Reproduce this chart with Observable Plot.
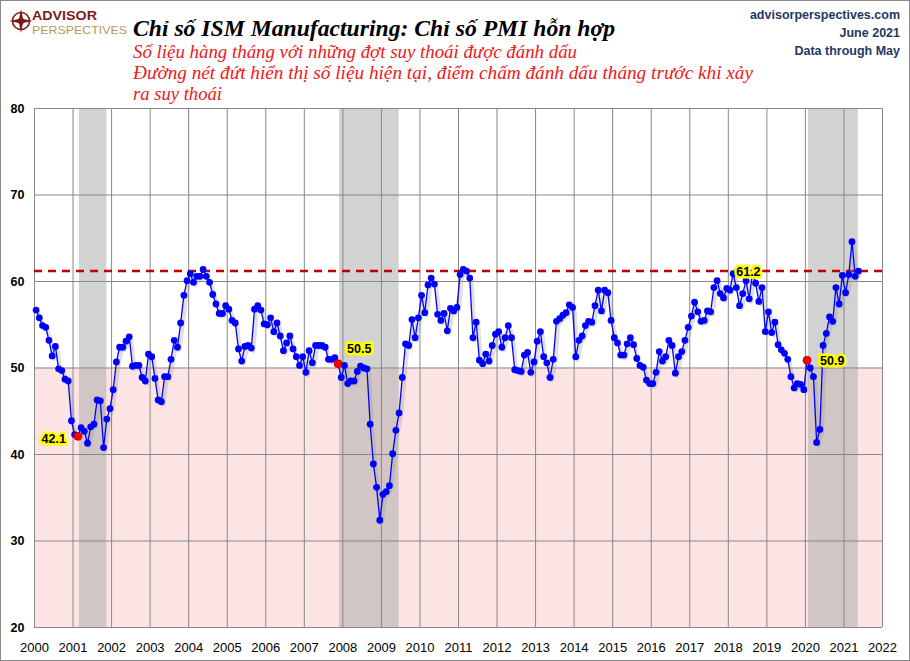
<!DOCTYPE html>
<html>
<head>
<meta charset="utf-8">
<script src="https://cdn.jsdelivr.net/npm/d3@7"></script>
<script src="https://cdn.jsdelivr.net/npm/@observablehq/plot@0.6"></script>
<style>
  html, body { margin: 0; padding: 0; background: #fff; }
  #wrap { position: relative; width: 910px; height: 661px; overflow: hidden; background: #fff; }
  #chart { position: absolute; left: 0; top: 0; }
  #overlay { position: absolute; left: 0; top: 0; pointer-events: none; }
  #border { position: absolute; left: 0; top: 0; width: 910px; height: 661px; box-sizing: border-box; border: 1px solid #8a8a8a; pointer-events: none; }
</style>
</head>
<body>
<div id="wrap">
  <div id="chart"></div>
  <svg id="overlay" width="910" height="661" xmlns="http://www.w3.org/2000/svg">
    <!-- logo -->
    <g>
      <circle cx="21" cy="21" r="8.5" fill="none" stroke="#7a1c1c" stroke-width="1.6"/>
      <polygon points="21,9 23,19 33,21 23,23 21,33 19,23 9,21 19,19" fill="#7a1c1c"/>
      <circle cx="21" cy="21" r="3.2" fill="#7a1c1c"/>
      <text x="32" y="20" font-family="Liberation Sans, Arial, sans-serif" font-weight="bold" font-size="12.5" fill="#7a1c1c" textLength="65" lengthAdjust="spacingAndGlyphs">ADVISOR</text>
      <text x="32" y="33.5" font-family="Liberation Sans, Arial, sans-serif" font-size="11.5" fill="#b59a5c" textLength="95" lengthAdjust="spacingAndGlyphs">PERSPECTIVES</text>
    </g>
    <text x="133" y="36" font-family="Liberation Serif, Times New Roman, serif" font-weight="bold" font-style="italic" font-size="23" fill="#000" textLength="482" lengthAdjust="spacingAndGlyphs">Chỉ số ISM Manufacturing: Chỉ số PMI hỗn hợp</text>
    <g font-family="Liberation Serif, Times New Roman, serif" font-style="italic" font-size="18" fill="#f01818">
      <text x="133" y="57.5" textLength="444" lengthAdjust="spacingAndGlyphs">Số liệu hàng tháng với những đợt suy thoái được đánh dấu</text>
      <text x="133" y="79" textLength="620" lengthAdjust="spacingAndGlyphs">Đường nét đứt hiển thị số liệu hiện tại, điểm chấm đánh dấu tháng trước khi xảy</text>
      <text x="133" y="100" textLength="89" lengthAdjust="spacingAndGlyphs">ra suy thoái</text>
    </g>
    <g font-family="Liberation Sans, Arial, sans-serif" font-weight="bold" font-size="12.5" fill="#1f3864" text-anchor="end">
      <text x="900" y="18.5">advisorperspectives.com</text>
      <text x="900" y="37">June 2021</text>
      <text x="900" y="55">Data through May</text>
    </g>
  </svg>
  <div id="border"></div>
</div>
<script>
// ISM Manufacturing PMI, monthly Jan 2000 – May 2021
const pmi2000 = [56.7, 55.8, 54.9, 54.7, 53.2, 51.4, 52.5, 49.9, 49.7, 48.7, 48.5, 43.9];
const pmi2001 = [42.3, 42.1, 43.1, 42.7, 41.3, 43.2, 43.5, 46.3, 46.2, 40.8, 44.1, 45.3];
const pmi2002 = [47.5, 50.7, 52.4, 52.4, 53.1, 53.6, 50.2, 50.3, 50.3, 48.9, 48.5, 51.6];
const pmi2003 = [51.3, 48.8, 46.3, 46.1, 49.0, 49.0, 51.0, 53.2, 52.4, 55.2, 58.4, 60.1];
const pmi2004 = [60.9, 59.9, 60.6, 60.6, 61.4, 60.6, 59.9, 58.5, 57.4, 56.3, 56.3, 57.2];
const pmi2005 = [56.8, 55.5, 55.2, 52.2, 50.8, 52.5, 52.6, 52.3, 56.8, 57.2, 56.7, 55.1];
const pmi2006 = [55.0, 55.8, 54.2, 55.2, 53.7, 52.0, 52.9, 53.7, 52.2, 51.3, 50.3, 51.3];
const pmi2007 = [49.5, 52.0, 50.6, 52.6, 52.6, 52.6, 52.4, 51.0, 51.0, 51.2, 50.5, 48.9];
const pmi2008 = [50.3, 48.2, 48.5, 48.5, 49.6, 50.2, 50.0, 49.9, 43.5, 38.9, 36.2, 32.4];
const pmi2009 = [35.4, 35.7, 36.4, 40.1, 42.8, 44.8, 48.9, 52.8, 52.6, 55.6, 53.5, 55.8];
const pmi2010 = [58.4, 56.4, 59.6, 60.4, 59.7, 56.2, 55.5, 56.3, 54.3, 56.9, 56.6, 57.0];
const pmi2011 = [60.8, 61.4, 61.2, 60.4, 53.5, 55.3, 50.9, 50.5, 51.6, 50.8, 52.6, 53.9];
const pmi2012 = [54.2, 52.4, 53.5, 54.9, 53.5, 49.8, 49.7, 49.6, 51.5, 51.8, 49.5, 50.7];
const pmi2013 = [53.1, 54.2, 51.3, 50.6, 48.9, 51.0, 55.4, 55.7, 56.1, 56.4, 57.3, 57.0];
const pmi2014 = [51.3, 53.2, 53.7, 54.9, 55.4, 55.3, 57.2, 59.0, 56.6, 59.0, 58.7, 55.5];
const pmi2015 = [53.5, 52.9, 51.5, 51.5, 52.8, 53.5, 52.7, 51.1, 50.3, 50.1, 48.6, 48.2];
const pmi2016 = [48.2, 49.5, 51.9, 50.8, 51.3, 53.2, 52.6, 49.4, 51.3, 51.9, 53.2, 54.7];
const pmi2017 = [56.0, 57.6, 56.5, 55.4, 55.5, 56.6, 56.5, 59.3, 60.1, 58.6, 58.1, 59.2];
const pmi2018 = [59.0, 60.9, 59.3, 57.2, 58.6, 60.1, 58.0, 61.0, 59.8, 57.7, 59.3, 54.2];
const pmi2019 = [56.5, 54.1, 55.3, 52.7, 52.1, 51.7, 51.0, 49.0, 47.7, 48.2, 48.1, 47.5];
const pmi2020 = [50.9, 50.0, 49.0, 41.4, 42.9, 52.6, 54.0, 55.9, 55.4, 59.3, 57.4, 60.7];
const pmi2021 = [58.7, 60.8, 64.6, 60.6, 61.2];

const seriesByYear = [pmi2000, pmi2001, pmi2002, pmi2003, pmi2004, pmi2005, pmi2006, pmi2007,
  pmi2008, pmi2009, pmi2010, pmi2011, pmi2012, pmi2013, pmi2014, pmi2015, pmi2016, pmi2017,
  pmi2018, pmi2019, pmi2020, pmi2021];
const firstYear = 2000;

// Recessions: start [year, month] and end [year, month]
const recessionStarts = [[2001, 3], [2007, 12], [2020, 2]];
const recessionEnds = [[2001, 11], [2009, 6], [2021, 5]];

// Month before each recession (marked in red) and their labels
const markerMonths = [[2001, 2], [2007, 11], [2020, 1]];
const markerLabels = ["42.1", "50.5", "50.9"];

// Current value (dashed line) and its label month
const currentValue = 61.2;
const currentLabelMonth = [2018, 8];
const currentLabel = "61.2";

const threshold = 50;
const xDomain = [2000, 2022];
const yDomain = [20, 80];
const xTicks = d3.range(2000, 2023);
const yTicks = [20, 30, 40, 50, 60, 70, 80];

// helpers (month -> decimal year, centered in month)
const mid = (y, m) => y + (m - 0.5) / 12;
const rows = seriesByYear.flatMap((arr, i) => arr.map((v, j) => ({t: mid(firstYear + i, j + 1), v})));
const valueAt = (y, m) => seriesByYear[y - firstYear][m - 1];
const recessions = recessionStarts.map((s, i) => ({
  x1: mid(s[0], s[1]) - 1 / 24,
  x2: mid(recessionEnds[i][0], recessionEnds[i][1])
}));
const markers = markerMonths.map((d, i) => ({t: mid(d[0], d[1]), v: valueAt(d[0], d[1]), label: markerLabels[i]}));
const curLab = [{t: mid(currentLabelMonth[0], currentLabelMonth[1]), v: currentValue, label: currentLabel}];

const labelStyle = {fontSize: 12.5, fontWeight: "bold", fontFamily: "Liberation Sans, Arial, sans-serif",
  fill: "#000", stroke: "#ffff00", strokeWidth: 5, strokeLinejoin: "miter", paintOrder: "stroke"};

const chart = Plot.plot({
  width: 910,
  height: 661,
  marginLeft: 34,
  marginRight: 28,
  marginTop: 108,
  marginBottom: 34,
  style: {background: "transparent", overflow: "visible"},
  x: {type: "linear", domain: xDomain},
  y: {domain: yDomain},
  marks: [
    Plot.rect([threshold], {x1: () => xDomain[0], x2: () => xDomain[1], y1: () => yDomain[0], y2: d => d, fill: "#fde4e4"}),
    Plot.rect(recessions, {x1: "x1", x2: "x2", y1: () => yDomain[0], y2: () => yDomain[1], fill: "#a6a6a6", fillOpacity: 0.5}),
    Plot.ruleY(yTicks, {stroke: "#888", strokeWidth: 1}),
    Plot.ruleX(xTicks, {stroke: "#888", strokeWidth: 1}),
    Plot.ruleY([currentValue], {stroke: "#c00000", strokeWidth: 2.5, strokeDasharray: "8,6"}),
    Plot.line(rows, {x: "t", y: "v", stroke: "#999", strokeOpacity: 0.3, strokeWidth: 4, dx: 2, dy: 3}),
    Plot.line(rows, {x: "t", y: "v", stroke: "#0000ff", strokeWidth: 1.3}),
    Plot.dot(rows, {x: "t", y: "v", r: 3.4, fill: "#0000ff"}),
    Plot.dot(markers, {x: "t", y: "v", r: 4, fill: "#ff0000", stroke: "#a00000", strokeWidth: 0.7}),
    Plot.text([markers[0]], {x: "t", y: "v", text: "label", textAnchor: "end", dx: -12, dy: 3, ...labelStyle}),
    Plot.text([markers[1]], {x: "t", y: "v", text: "label", textAnchor: "start", dx: 9, dy: -15, ...labelStyle}),
    Plot.text([markers[2]], {x: "t", y: "v", text: "label", textAnchor: "start", dx: 13, dy: 1, ...labelStyle}),
    Plot.text(curLab, {x: "t", y: "v", text: "label", textAnchor: "middle", dx: -4, dy: 1, ...labelStyle}),
    Plot.axisY({ticks: yTicks, tickSize: 0, tickPadding: 10, label: null, fontSize: 12.5, fontWeight: "bold",
      fontFamily: "Liberation Sans, Arial, sans-serif", fill: "#000"}),
    Plot.axisX({ticks: xTicks, tickSize: 0, tickPadding: 15, label: null, tickFormat: d => String(d),
      fontSize: 13, fontFamily: "Liberation Sans Narrow, Arial Narrow, Liberation Sans, sans-serif", fill: "#000"})
  ]
});
document.getElementById("chart").appendChild(chart);
</script>
</body>
</html>
